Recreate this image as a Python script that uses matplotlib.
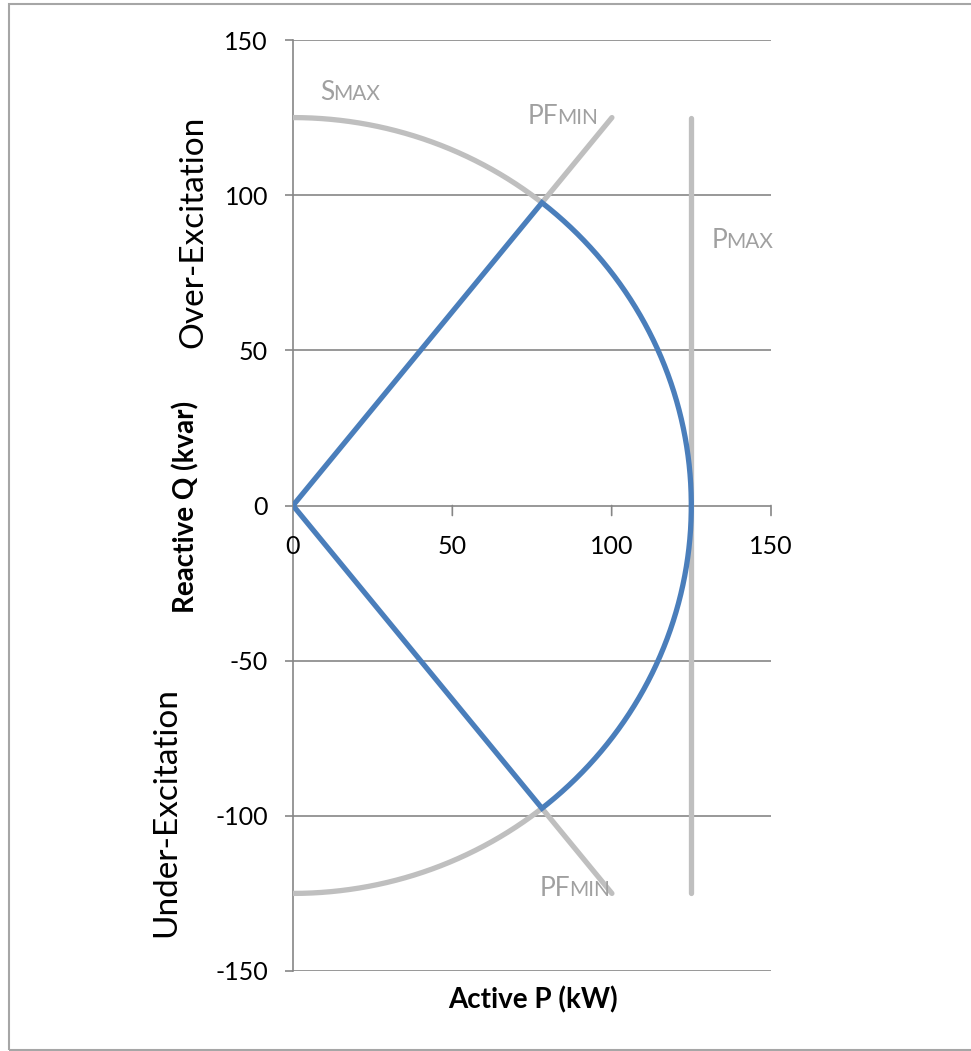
import numpy as np
import matplotlib
matplotlib.use("Agg")
import matplotlib.pyplot as plt
from matplotlib.offsetbox import TextArea, HPacker, AnnotationBbox
from matplotlib.patches import Rectangle

# ---- data ----
S_MAX = 125.0        # apparent power limit (kVA)
PF_MIN = 0.625       # minimum power factor
P_MAX = 125.0        # active power limit (kW)
Q_LIMIT = 125.0      # extent of the limit lines (kvar)

x_ticks = [0, 50, 100, 150]
y_ticks = [-150, -100, -50, 0, 50, 100, 150]
x_lim = (0, 150)
y_lim = (-150, 150)

labels = [("S", "MAX", 8.5, 133.0),
          ("PF", "MIN", 73.7, 125.5),
          ("P", "MAX", 131.5, 85.5),
          ("PF", "MIN", 77.5, -123.5)]

# ---- derived geometry ----
phi = np.arccos(PF_MIN)
arc_t = np.linspace(phi, -phi, 300)
blue_P = np.concatenate([[0.0], S_MAX * np.cos(arc_t), [0.0]])
blue_Q = np.concatenate([[0.0], S_MAX * np.sin(arc_t), [0.0]])

up_t = np.linspace(np.pi / 2, phi, 200)
lo_t = np.linspace(-np.pi / 2, -phi, 200)
corner_P = S_MAX * np.cos(phi)
corner_Q = S_MAX * np.sin(phi)
ray_P_end = Q_LIMIT / np.tan(phi)

plt.rcParams["font.family"] = ["Lato", "DejaVu Sans"]

fig = plt.figure(figsize=(9.71, 10.51), dpi=100)
ax = fig.add_axes([293 / 971, 1 - 971 / 1051, (771 - 293) / 971, (971 - 40) / 1051])

GRAY = "#bfbfbf"
BLUE = "#4a7ebb"
AX = "#868686"
LW = 3.8

# limit lines (gray)
ax.plot(S_MAX * np.cos(up_t), S_MAX * np.sin(up_t), color=GRAY, lw=LW, solid_capstyle="round", zorder=3)
ax.plot(S_MAX * np.cos(lo_t), S_MAX * np.sin(lo_t), color=GRAY, lw=LW, solid_capstyle="round", zorder=3)
ax.plot([corner_P, ray_P_end], [corner_Q, Q_LIMIT], color=GRAY, lw=LW, solid_capstyle="round", zorder=3)
ax.plot([corner_P, ray_P_end], [-corner_Q, -Q_LIMIT], color=GRAY, lw=LW, solid_capstyle="round", zorder=3)
ax.plot([P_MAX, P_MAX], [-Q_LIMIT, Q_LIMIT], color=GRAY, lw=LW, solid_capstyle="round", zorder=3)

# capability region (blue)
ax.plot(blue_P, blue_Q, color=BLUE, lw=LW, solid_joinstyle="miter", solid_capstyle="round", zorder=4)

ax.set_xlim(*x_lim)
ax.set_ylim(*y_lim)
ax.set_yticks(y_ticks)
ax.set_yticklabels([str(v) for v in y_ticks])
ax.set_xticks([])

for s in ["top", "right", "bottom"]:
    ax.spines[s].set_visible(False)
ax.spines["left"].set_position(("data", 0))
ax.spines["left"].set_color(AX)
ax.spines["left"].set_linewidth(1.2)

# horizontal gridlines (includes the x axis at Q=0)
for yv in y_ticks:
    ax.axhline(yv, color=AX, lw=1.2, zorder=1)

ax.tick_params(axis="y", direction="out", length=6, width=1.2, color=AX,
               labelsize=18, pad=12, labelcolor="#000000")

# x ticks and labels hang from the Q=0 line
for xv in x_ticks:
    if xv != 0:
        ax.annotate("", xy=(xv, 0), xycoords="data",
                    xytext=(0, -10), textcoords="offset pixels",
                    arrowprops=dict(arrowstyle="-", color=AX, lw=1.2,
                                    shrinkA=0, shrinkB=0))
    ax.annotate(str(xv), xy=(xv, 0), xycoords="data",
                xytext=(0, -41), textcoords="offset pixels",
                ha="center", va="center", fontsize=18, color="#000000",
                annotation_clip=False)

ax.patch.set_visible(False)

# subscript-style labels
TXT = "#a0a0a0"
for main, sub, xp, yp in labels:
    ta = TextArea(main, textprops=dict(size=19, color=TXT))
    tb = TextArea(sub, textprops=dict(size=15, color=TXT))
    box = HPacker(children=[ta, tb], align="baseline", pad=0, sep=-1)
    ab = AnnotationBbox(box, (xp, yp), xycoords="data", box_alignment=(0, 0.5),
                        frameon=False, pad=0, annotation_clip=False, zorder=5)
    ax.add_artist(ab)

# axis titles
fig.text(533 / 971, 1 - 1000 / 1051, "Active P (kW)", ha="center", va="center",
         fontsize=20, fontweight="bold", color="#000000")
fig.text(186 / 971, 1 - 507 / 1051, "Reactive Q (kvar)", ha="center", va="center",
         rotation=90, fontsize=20, fontweight="bold", color="#000000")
fig.text(193 / 971, 1 - 232 / 1051, "Over-Excitation", ha="center", va="center",
         rotation=90, fontsize=24, color="#000000")
fig.text(166 / 971, 1 - 812 / 1051, "Under-Excitation", ha="center", va="center",
         rotation=90, fontsize=24, color="#000000")

# chart area border
fig.patches.append(Rectangle((9 / 971, 1 / 1051), 1.0, 1 - 5 / 1051,
                             transform=fig.transFigure, fill=False,
                             edgecolor="#a6a6a6", lw=1.5))

fig.savefig("out.png", dpi=100)
